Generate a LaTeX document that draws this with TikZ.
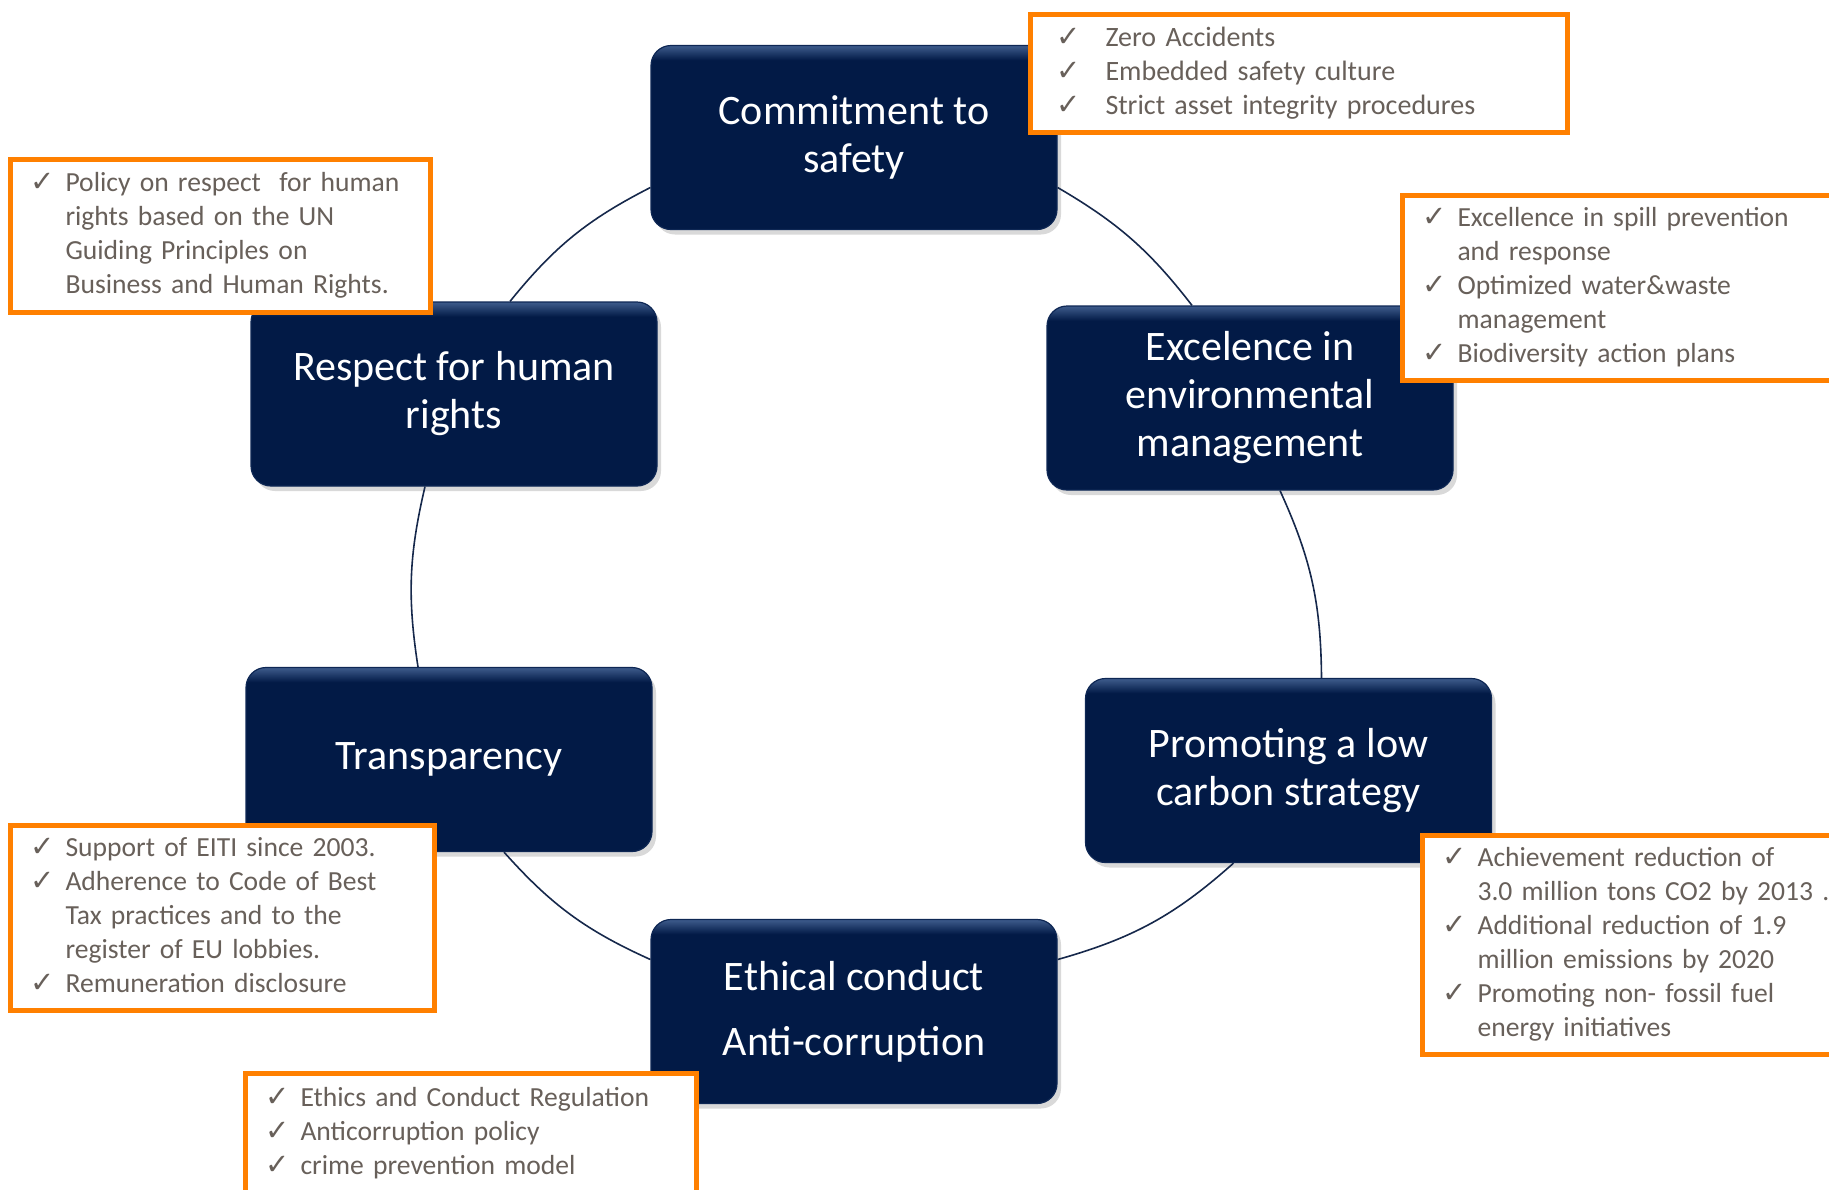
\documentclass[tikz,border=0pt]{standalone}
\usepackage{amssymb}
\usepackage{fontspec}
\setmainfont{Carlito}
\newfontfamily\tickfont{DejaVu Sans}
\usepackage{tikz}
\usetikzlibrary{positioning,shadows}
\definecolor{navy}{RGB}{2,26,70}
\definecolor{navyrim}{RGB}{62,92,140}
\definecolor{ringline}{RGB}{22,40,75}
\definecolor{boxorange}{RGB}{255,128,0}
\definecolor{textgrey}{RGB}{104,96,90}
\pgfdeclareverticalshading{pillarshade}{100bp}{color(0bp)=(navy); color(25bp)=(navy); color(71bp)=(navy); color(75bp)=(navyrim); color(100bp)=(navyrim)}
\newcommand{\tck}[1][17.5pt]{\makebox[#1][l]{{\tickfont\fontsize{14.5}{17}\selectfont ✓}}}
\newcommand{\ind}[1][17.5pt]{\hspace*{#1}}

\begin{document}
\begin{tikzpicture}[x=0.5pt,y=-0.5pt,on grid,
    pillar/.style={rectangle, rounded corners=10pt, shading=pillarshade,
      draw=navy!80!navyrim, line width=0.6pt, text=white,
      minimum width=203pt, minimum height=92pt, align=center,
      font=\fontsize{21}{24}\selectfont,
      drop shadow={shadow xshift=2pt, shadow yshift=-2.5pt, opacity=.3}},
    notes/.style={rectangle, draw=boxorange, line width=2.5pt, fill=white,
      anchor=north west, align=left, inner xsep=10pt, inner ysep=0pt,
      text=textgrey, font=\fontsize{13.8}{17}\selectfont},
    ring/.style={draw=ringline, line width=0.8pt}]
  \useasboundingbox (0,0) rectangle (1829,1189);

  % the six pillars
  \node[pillar] (safety) at (854,137.5) {Commitment to\\safety};
  \node[pillar] (rights) [below left=128.25pt and 200pt of safety] {Respect for human\\rights};
  \node[pillar] (env) [below right=130.25pt and 198pt of safety] {Excelence in\\environmental\\management};
  \node[pillar] (transp) [below left=182.75pt and 2.5pt of rights] {Transparency};
  \node[pillar] (carbon) [below right=186.25pt and 19.25pt of env] {Promoting a low\\carbon strategy};
  \node[pillar] (ethics) [below=437pt of safety] {Ethical conduct\\[8.5pt]Anti-corruption};

  % ring
  \draw[ring] ([yshift=-25pt]safety.east) to[bend left=11] ([xshift=-29pt]env.north);
  \draw[ring] ([xshift=15pt]env.south) to[bend left=12] ([xshift=16.5pt]carbon.north);
  \draw[ring] ([xshift=-27.5pt]carbon.south) to[bend left=13] ([yshift=26pt]ethics.east);
  \draw[ring] ([yshift=26pt]ethics.west) to[bend left=12] ([xshift=27.5pt]transp.south);
  \draw[ring] ([xshift=-15.5pt]transp.north) to[bend left=11] ([xshift=-14.5pt]rights.south);
  \draw[ring] ([xshift=28pt]rights.north) to[bend left=12] ([yshift=-25pt]safety.west);

  % notes
  \node[notes, text width=242.5pt, minimum height=59pt, inner xsep=13pt,
    font=\fontsize{14}{17}\selectfont] (safetynotes) at (1028,12) {%
    \begin{tabular}{@{}l@{}}
    \tck[24.5pt]Zero Accidents\\
    \tck[24.5pt]Embedded safety culture\\
    \tck[24.5pt]Strict asset integrity procedures
    \end{tabular}};
  \node[notes, text width=190pt, minimum height=76.5pt] (rightsnotes) at (8,157) {%
    \begin{tabular}{@{}l@{}}
    \tck Policy on respect\ \ for human\\
    \ind rights based on the UN\\
    \ind Guiding Principles on\\
    \ind Business and Human Rights.
    \end{tabular}};
  \node[notes, text width=197.5pt, minimum height=92.5pt] (envnotes) at (1400,193) {%
    \begin{tabular}{@{}l@{}}
    \tck Excellence in spill prevention\\
    \ind and response\\
    \tck Optimized water\&waste\\
    \ind management\\
    \tck Biodiversity action plans
    \end{tabular}};
  \node[notes, text width=192pt, minimum height=92.5pt] (transpnotes) at (8,823) {%
    \begin{tabular}{@{}l@{}}
    \tck Support of EITI since 2003.\\
    \tck Adherence to Code of Best\\
    \ind Tax practices and to the\\
    \ind register of EU lobbies.\\
    \tck Remuneration disclosure
    \end{tabular}};
  \node[notes, text width=187.5pt, minimum height=109.5pt] (carbonnotes) at (1420,833) {%
    \begin{tabular}{@{}l@{}}
    \tck Achievement reduction of\\
    \ind 3.0 million tons CO2 by 2013 .\\
    \tck Additional reduction of 1.9\\
    \ind million emissions by 2020\\
    \tck Promoting non- fossil fuel\\
    \ind energy initiatives
    \end{tabular}};
  \node[notes, text width=205.5pt, minimum height=60.5pt] (ethicsnotes) at (243,1071) {%
    \begin{tabular}{@{}l@{}}
    \tck Ethics and Conduct Regulation\\
    \tck Anticorruption policy\\
    \tck crime prevention model
    \end{tabular}};
\end{tikzpicture}
\end{document}
